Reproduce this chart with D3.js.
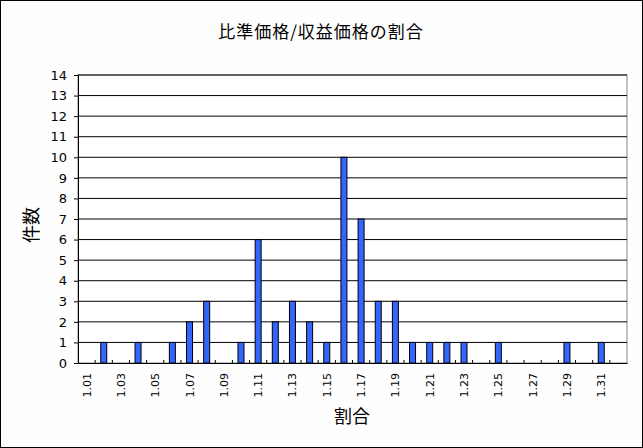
<!DOCTYPE html><html><head><meta charset="utf-8"><script src="https://cdn.jsdelivr.net/npm/d3@7"></script>
<style>body{margin:0;background:#fff}</style></head><body><svg id="c" width="643" height="448"></svg><script>
const categories=["1.01","1.02","1.03","1.04","1.05","1.06","1.07","1.08","1.09","1.10","1.11","1.12","1.13","1.14","1.15","1.16","1.17","1.18","1.19","1.20","1.21","1.22","1.23","1.24","1.25","1.26","1.27","1.28","1.29","1.30","1.31","1.32"];
const counts=[0,1,0,1,0,1,2,3,0,1,6,2,3,2,1,10,7,3,3,1,1,1,1,0,1,0,0,0,1,0,1,0];
const yTicks=d3.range(0,15);
const svg=d3.select("#c");
const f="'MS PGothic','Noto Sans CJK JP',sans-serif";
svg.append("rect").attr("x",0.5).attr("y",0.5).attr("width",642).attr("height",447).attr("fill","#fefefe").attr("stroke","#000");
const L=78,R=627,T=75,B=363;
const x=d3.scaleBand().domain(categories).range([L,R]);
const y=d3.scaleLinear().domain([0,14]).range([B,T]);
svg.append("rect").attr("x",L).attr("y",T).attr("width",R-L).attr("height",B-T).attr("fill","#fff").attr("stroke","#888");
svg.append("g").selectAll("line").data(yTicks.slice(1)).join("line").attr("x1",L).attr("x2",R).attr("y1",d=>y(d)).attr("y2",d=>y(d)).attr("stroke","#000");
const bw=6;
svg.append("g").selectAll("rect").data(categories).join("rect").attr("x",d=>x(d)+x.bandwidth()/2-bw/2).attr("y",(d,i)=>y(counts[i])).attr("width",bw).attr("height",(d,i)=>B-y(counts[i])).attr("fill","#3366ff").attr("stroke","#000").attr("stroke-width",1);
const ya=svg.append("g").attr("transform",`translate(${L},0)`).call(d3.axisLeft(y).tickValues(yTicks).tickSize(4).tickFormat(d3.format("d")));
ya.selectAll("text").attr("font-family","'DejaVu Sans',sans-serif").attr("font-size",13).attr("fill","#000").attr("dx",-4);
const xa=svg.append("g").attr("transform",`translate(0,${B})`).call(d3.axisBottom(x).tickValues([]).tickSize(0));
xa.select(".domain").attr("stroke","#000");
ya.select(".domain").attr("stroke","#000");
svg.append("g").selectAll("line").data(categories.slice(1)).join("line").attr("x1",d=>x(d)).attr("x2",d=>x(d)).attr("y1",B).attr("y2",B-3).attr("stroke","#000");
svg.append("g").selectAll("text").data(categories.filter((d,i)=>i%2==0)).join("text").attr("transform",d=>`translate(${x(d)+x.bandwidth()/2+4},${B+10}) rotate(-90)`).attr("text-anchor","end").attr("font-family","'DejaVu Sans',sans-serif").attr("font-size",11).text(d=>d);
svg.append("text").attr("x",321).attr("y",38).attr("text-anchor","middle").attr("font-family",f).attr("font-size",17).attr("letter-spacing",1).text("比準価格/収益価格の割合");
svg.append("text").attr("x",352).attr("y",423).attr("text-anchor","middle").attr("font-family",f).attr("font-size",18).text("割合");
svg.append("text").attr("transform","translate(38,225) rotate(-90)").attr("text-anchor","middle").attr("font-family",f).attr("font-size",18).text("件数");
</script></body></html>
